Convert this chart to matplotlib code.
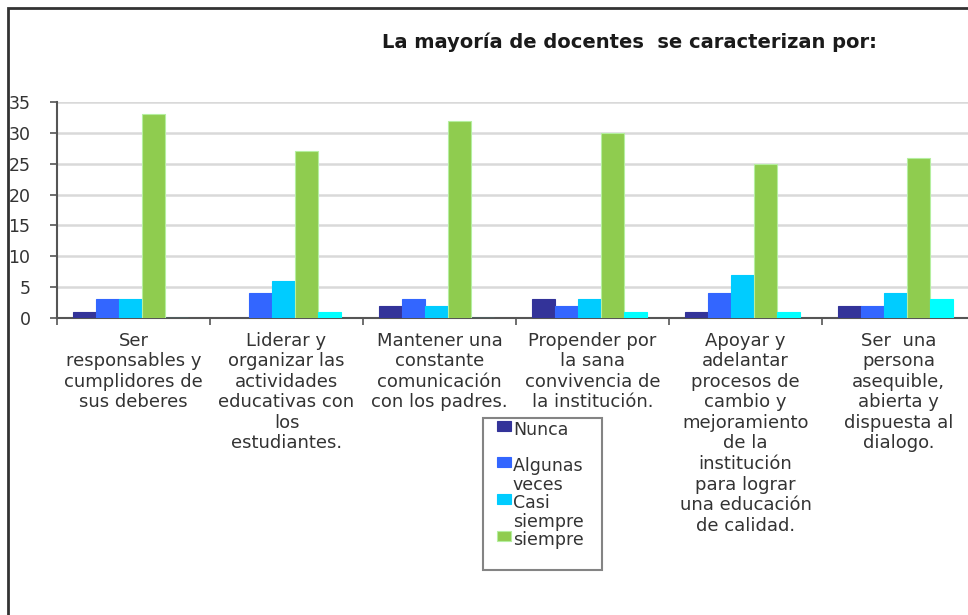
import numpy as np
import matplotlib
matplotlib.use('Agg')
import matplotlib.pyplot as plt
from matplotlib.patches import Rectangle
from matplotlib.container import BarContainer
from matplotlib.legend_handler import HandlerPatch, update_from_first_child

categories = [
    'Ser\nresponsables y\ncumplidores de\nsus deberes',
    'Liderar y\norganizar las\nactividades\neducativas con\nlos\nestudiantes.',
    'Mantener una\nconstante\ncomunicación\ncon los padres.',
    'Propender por\nla sana\nconvivencia de\nla institución.',
    'Apoyar y\nadelantar\nprocesos de\ncambio y\nmejoramiento\nde la\ninstitución\npara lograr\nuna educación\nde calidad.',
    'Ser  una\npersona\nasequible,\nabierta y\ndispuesta al\ndialogo.',
]
nunca = [1, 0, 2, 3, 1, 2]
algunas_veces = [3, 4, 3, 2, 4, 2]
casi_siempre = [3, 6, 2, 3, 7, 4]
siempre = [33, 27, 32, 30, 25, 26]
sin_nombre = [0, 1, 0, 1, 1, 3]

series = [nunca, algunas_veces, casi_siempre, siempre, sin_nombre]
labels = ['Nunca\n ', 'Algunas   \nveces', 'Casi\nsiempre', 'siempre\n ', '_nolegend_']
colors = ['#333399', '#3366FF', '#00CCFF', '#8FCC4F', '#00FFFF']
edges = ['#333399', '#3366FF', '#00CCFF', '#B5EFA0', '#00FFFF']

fig = plt.figure(figsize=(9.68, 6.15), dpi=100)
ax = fig.add_axes([57 / 968, 1 - 318 / 615, 918 / 968, 216 / 615])

x = np.arange(len(categories))
w = 0.15
for i, (vals, lab, c, ec) in enumerate(zip(series, labels, colors, edges)):
    ax.bar(x + (i - 2) * w - 0.02, vals, w, color=c, edgecolor=ec, linewidth=0.8,
           label=lab, zorder=3)

ax.set_xlim(-0.5, len(categories) - 0.5)
ax.set_ylim(0, 35)
ax.set_yticks(range(0, 36, 5))
ax.yaxis.grid(True, color='#d9d9d9', linewidth=1.8, zorder=0)
ax.set_axisbelow(True)

ax.set_xticks(np.arange(-0.5, len(categories)), minor=False)
ax.set_xticklabels([])
ax.set_xticks(x, minor=True)
ax.set_xticklabels(categories, minor=True, fontsize=13, color='#333333',
                   linespacing=1.18)
ax.tick_params(axis='x', which='minor', length=0, pad=10)
ax.tick_params(axis='x', which='major', length=5, color='#555555', width=1.2)
ax.tick_params(axis='y', length=5, color='#555555', width=1.2, pad=14,
               labelsize=12.5, labelcolor='#333333')

for s in ['top', 'right']:
    ax.spines[s].set_visible(False)
for s in ['left', 'bottom']:
    ax.spines[s].set_color('#555555')
    ax.spines[s].set_linewidth(1.5)


def small_swatch(legend, orig_handle, xdescent, ydescent, width, height, fontsize):
    sw = 0.8 * fontsize
    return Rectangle((-xdescent + width - sw, -ydescent), sw, height)


leg = ax.legend(loc='upper left', bbox_to_anchor=(483 / 968, 1 - 418 / 615),
                bbox_transform=fig.transFigure, fontsize=12.5, frameon=True,
                fancybox=False, handlelength=1.45, handleheight=0.5,
                handletextpad=0.12, labelspacing=0.0, borderpad=0.15,
                borderaxespad=0,
                handler_map={BarContainer: HandlerPatch(
                    patch_func=small_swatch, update_func=update_from_first_child)})
leg.get_frame().set_edgecolor('#666666')
leg.get_frame().set_linewidth(1.5)
for t in leg.get_texts():
    t.set_color('#333333')
    t.set_linespacing(1.05)
# put each legend swatch next to the first line of its label
for col in leg._legend_handle_box.get_children():
    for item in col.get_children():
        item.align = 'top'

fig.text(629 / 968, 1 - 42 / 615, 'La mayoría de docentes  se caracterizan por:',
         ha='center', va='center', fontsize=14, fontweight='bold', color='#1a1a1a')

# chart frame
fig.add_artist(Rectangle((8 / 968, -0.1), 1.2, 1 - 8 / 615 + 0.1,
                         transform=fig.transFigure, fill=False,
                         edgecolor='#333333', linewidth=2))

fig.savefig('out.png', dpi=100)
